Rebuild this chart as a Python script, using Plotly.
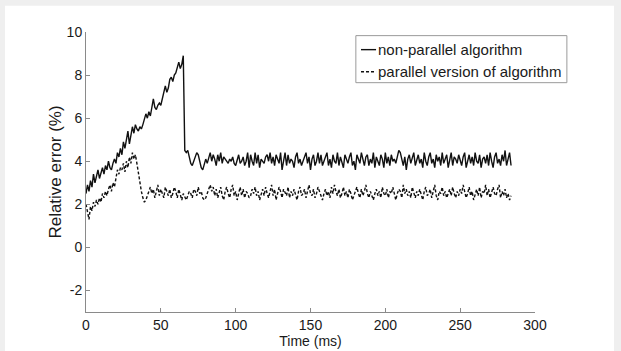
import plotly.graph_objects as go

TIME_MS = list(range(0, 285))

NON_PARALLEL = [
    2.5, 2.9, 2.6, 3.1, 2.8, 3.4, 3.0, 3.3, 3.6, 3.2, 3.5, 3.7, 3.4, 3.8, 3.6, 4.0, 3.7, 3.6, 3.9, 4.1,
    3.9, 4.4, 4.2, 4.6, 4.3, 4.9, 4.6, 5.1, 5.4, 4.8, 5.2, 5.6, 5.3, 5.7, 5.5, 5.4, 5.6, 5.5, 5.7, 5.9,
    6.2, 6.0, 6.3, 6.1, 6.6, 6.9, 6.5, 6.4, 6.6, 6.7, 6.6, 6.9, 7.3, 7.5, 7.2, 7.4, 7.8, 7.9, 7.7, 8.0,
    8.1, 8.3, 8.6, 8.3, 8.5, 8.9, 4.5,
    4.4, 4.5, 4.2, 3.9, 3.8, 4.0, 4.3, 4.4, 4.3, 4.0, 3.7, 3.6, 3.8, 4.1, 3.9, 4.2, 4.4, 4.0, 4.3, 4.1,
    3.8, 4.3, 4.0, 4.4, 3.9, 4.2, 4.1, 4.0, 3.9, 4.1, 4.0, 4.2, 3.9, 3.8, 4.1, 4.3, 3.9, 4.0, 4.2, 3.8,
    4.0, 4.4, 3.7, 4.3, 4.0, 3.8, 4.4, 3.9, 4.3, 3.7, 4.1, 4.0, 3.9, 4.2, 4.3, 4.0, 4.4, 3.9, 4.2, 3.8,
    4.3, 4.1, 3.9, 4.4, 3.6, 4.0, 4.4, 3.8, 4.3, 3.9, 4.1, 4.0, 3.7, 4.2, 4.4, 3.9, 4.1, 3.8, 4.0, 4.3,
    4.4, 3.9, 4.2, 3.6, 4.1, 4.3, 3.8, 4.0, 4.4, 3.9, 4.3, 3.8, 4.0, 4.2, 4.4, 3.8, 4.1, 3.7, 4.3, 4.0,
    3.9, 4.4, 3.8, 4.2, 4.0, 3.7, 4.3, 4.1, 3.9, 4.2, 4.4, 3.8, 4.0, 3.6, 4.3, 4.1, 3.9, 4.4, 4.0, 3.8,
    4.2, 4.3, 3.8, 4.1, 3.9, 4.4, 3.7, 4.2, 4.0, 3.8, 4.3, 4.1, 3.7, 4.4, 3.9, 4.2, 3.8, 4.3, 4.0, 4.1,
    3.9, 4.3, 4.5, 4.4, 4.0, 3.8, 4.2, 3.6, 4.1, 4.3, 3.9, 4.2, 4.4, 3.8, 4.0, 4.3, 3.9, 4.1, 3.7, 4.4,
    4.0, 3.8, 4.2, 4.4, 3.9, 4.1, 3.7, 4.3, 4.0, 4.2, 3.8, 4.4, 3.9, 4.1, 4.3, 3.7, 4.0, 4.4, 3.8, 4.2,
    4.1, 3.9, 4.3, 4.0, 3.8, 4.2, 4.4, 3.7, 4.1, 4.3, 3.9, 4.2, 3.8, 4.4, 4.0, 3.9, 4.3, 3.7, 4.1, 4.2,
    3.9, 4.3, 3.8, 4.4, 4.0, 3.7, 4.2, 4.4, 3.9, 4.1, 3.8, 4.3, 4.0, 4.5, 3.8, 4.2, 4.4, 3.8,
]

PARALLEL = [
    2.0, 1.6, 1.3, 1.9, 1.7, 2.1, 1.9, 2.2, 2.0, 2.3, 2.1, 2.5, 2.3, 2.6, 2.4, 2.7, 2.9, 2.6, 3.0, 2.8,
    3.3, 3.6, 3.4, 3.7, 3.6, 3.9, 3.5, 4.0, 3.7, 4.2, 3.9, 4.4, 4.1, 4.3, 3.9, 3.4, 2.9, 2.6, 2.3, 2.1,
    2.2, 2.4, 2.6, 2.8, 2.5, 2.7, 2.3, 2.6, 2.9, 2.4, 2.7, 2.5, 2.3, 2.8, 2.6, 2.4, 2.7, 2.3, 2.5, 2.8,
    2.6, 2.3, 2.7, 2.4, 2.2, 2.5, 2.3, 2.2, 2.4, 2.6, 2.5, 2.3, 2.7, 2.6, 2.4, 2.8, 2.5, 2.6, 2.3, 2.2,
    2.3, 2.5, 2.7, 2.9, 2.6, 2.8, 2.4, 2.7, 2.3, 2.5, 2.8, 2.4, 2.2, 2.6, 2.8, 2.5, 2.3, 2.7, 2.9, 2.4,
    2.6, 2.2, 2.5, 2.8, 2.4, 2.7, 2.3, 2.6, 2.5, 2.3, 2.4, 2.7, 2.5, 2.8, 2.4, 2.6, 2.2, 2.5, 2.7, 2.4,
    2.8, 2.5, 2.3, 2.6, 2.9, 2.4, 2.7, 2.2, 2.5, 2.8, 2.6, 2.3, 2.7, 2.5, 2.4, 2.8, 2.3, 2.6, 2.4, 2.7,
    2.5, 2.2, 2.6, 2.8, 2.4, 2.5, 2.7, 2.3, 2.6, 2.9, 2.5, 2.4, 2.7, 2.3, 2.5, 2.8, 2.6, 2.4, 2.2, 2.5,
    2.7, 2.4, 2.6, 2.3, 2.8, 2.5, 2.9, 2.6, 2.4, 2.7, 2.3, 2.5, 2.8, 2.4, 2.6, 2.3, 2.7, 2.5, 2.2, 2.4,
    2.6, 2.8, 2.5, 2.3, 2.7, 2.4, 2.6, 2.9, 2.5, 2.3, 2.6, 2.4, 2.2, 2.5, 2.7, 2.4, 2.6, 2.3, 2.8, 2.5,
    2.4, 2.7, 2.3, 2.6, 2.5, 2.8, 2.4, 2.2, 2.5, 2.7, 2.6, 2.3, 2.9, 2.5, 2.7, 2.4, 2.6, 2.3, 2.8, 2.5,
    2.3, 2.6, 2.4, 2.7, 2.5, 2.2, 2.6, 2.8, 2.4, 2.5, 2.7, 2.3, 2.6, 2.9, 2.4, 2.2, 2.6, 2.5, 2.8, 2.4,
    2.6, 2.3, 2.5, 2.7, 2.4, 2.8, 2.5, 2.3, 2.6, 2.4, 2.7, 2.5, 2.9, 2.6, 2.3, 2.5, 2.8, 2.4, 2.6, 2.2,
    2.5, 2.7, 2.4, 2.8, 2.3, 2.6, 2.5, 2.9, 2.4, 2.7, 2.3, 2.6, 2.8, 2.5, 2.4, 2.7, 2.9, 2.3, 2.6, 2.4,
    2.7, 2.3, 2.5, 2.2, 2.4,
]

X_TICKS = [0, 50, 100, 150, 200, 250, 300]
Y_TICKS = [-2, 0, 2, 4, 6, 8, 10]
SERIES_NAMES = ["non-parallel algorithm", "parallel version of algorithm"]

FONT = "Liberation Sans, Arial, sans-serif"
AXIS_GRAY = "#8a8a8a"
TEXT = "#1a1a1a"

fig = go.Figure()
fig.add_trace(go.Scatter(x=TIME_MS, y=NON_PARALLEL, mode="lines", name=SERIES_NAMES[0],
                         line=dict(color="#111111", width=1.4)))
fig.add_trace(go.Scatter(x=TIME_MS, y=PARALLEL, mode="lines", name=SERIES_NAMES[1],
                         line=dict(color="#111111", width=1.4, dash="3px,2px")))

axis_common = dict(showline=True, linecolor=AXIS_GRAY, linewidth=1, ticks="inside",
                   ticklen=4, tickcolor=AXIS_GRAY, showgrid=False, zeroline=False,
                   automargin=False, tickfont=dict(family=FONT, size=14, color=TEXT))

fig.update_xaxes(range=[0, 300], tickvals=X_TICKS, ticktext=[str(v) for v in X_TICKS],
                 title=dict(text="Time (ms)", font=dict(family=FONT, size=14, color=TEXT), standoff=0),
                 **axis_common)
fig.update_yaxes(range=[-3, 10], tickvals=Y_TICKS, ticktext=[str(v) for v in Y_TICKS],
                 title=dict(text="Relative error (%)", font=dict(family=FONT, size=17, color=TEXT), standoff=0),
                 **axis_common)

shapes = [
    dict(type="rect", xref="paper", yref="paper", x0=-0.1804, x1=1.176, y0=-0.2, y1=1.094,
         fillcolor="white", line=dict(width=0), layer="below"),
    dict(type="rect", xref="paper", yref="paper", x0=0.601, x1=1.071, y0=0.819, y1=0.987,
         fillcolor="white", line=dict(color="#9a9a9a", width=1)),
    dict(type="line", xref="paper", yref="paper", x0=0.6125, x1=0.646, y0=0.937, y1=0.937,
         line=dict(color="#111111", width=1.4)),
    dict(type="line", xref="paper", yref="paper", x0=0.6125, x1=0.646, y0=0.858, y1=0.858,
         line=dict(color="#111111", width=1.4, dash="3px,2px")),
]
annotations = [
    dict(xref="paper", yref="paper", x=0.646, y=0.937, xanchor="left", yanchor="middle",
         text=SERIES_NAMES[0], showarrow=False, font=dict(family=FONT, size=15, color=TEXT)),
    dict(xref="paper", yref="paper", x=0.646, y=0.858, xanchor="left", yanchor="middle",
         text=SERIES_NAMES[1], showarrow=False, font=dict(family=FONT, size=15, color=TEXT)),
]

fig.update_layout(width=621, height=351, margin=dict(l=86, r=86, t=32, b=39),
                  paper_bgcolor="#efefef", plot_bgcolor="white", showlegend=False,
                  shapes=shapes, annotations=annotations, font=dict(family=FONT))

fig.write_html("out.html",
               config={"displayModeBar": False},
               post_script="document.body.style.margin='0px';"
                           "document.body.style.background='#efefef';"
                           "document.body.style.overflow='hidden';")
